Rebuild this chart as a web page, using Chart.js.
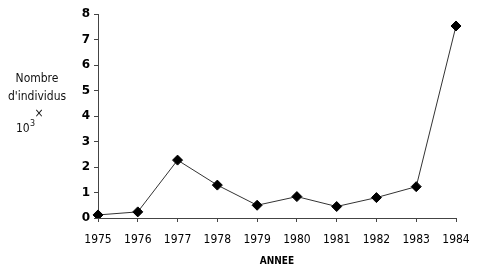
<!DOCTYPE html>
<html>
<head>
<meta charset="utf-8">
<script src="https://cdn.jsdelivr.net/npm/chart.js@4/dist/chart.umd.min.js"></script>
<style>
  html, body { margin: 0; padding: 0; background: #fff; }
  #wrap { width: 487px; height: 275px; }
</style>
</head>
<body>
<div id="wrap"><canvas id="chart" width="487" height="275"></canvas></div>
<script>
const years = ['1975', '1976', '1977', '1978', '1979', '1980', '1981', '1982', '1983', '1984'];
const individus = [0.12, 0.24, 2.27, 1.29, 0.5, 0.84, 0.45, 0.8, 1.23, 7.53];
const yTicks = [0, 1, 2, 3, 4, 5, 6, 7, 8];
const yTitleLines = ['Nombre', "d'individus", '×', '10³'];

// titre de l'axe Y écrit à l'horizontale, à gauche
const yTitlePlugin = {
    id: 'yTitle',
    afterDraw(chart) {
        const ctx = chart.ctx;
        ctx.save();
        ctx.fillStyle = '#111';
        ctx.font = '12px "DejaVu Sans Condensed", "DejaVu Sans"';
        ctx.textBaseline = 'middle';
        ctx.textAlign = 'center';
        ctx.fillText(yTitleLines[0], 37, 79);
        ctx.fillText(yTitleLines[1], 37, 97);
        ctx.fillText(yTitleLines[2], 39, 114);
        ctx.textAlign = 'left';
        ctx.fillText('10', 16, 129);
        ctx.font = '8px "DejaVu Sans"';
        ctx.fillText('3', 30, 124);
        ctx.restore();
    }
};

new Chart(document.getElementById('chart'), {
    type: 'line',
    data: {
        labels: years,
        datasets: [{
            data: individus,
            borderColor: '#333',
            borderWidth: 1,
            pointStyle: 'rectRot',
            pointRadius: 5,
            pointBackgroundColor: '#000',
            pointBorderColor: '#000',
            tension: 0
        }]
    },
    options: {
        responsive: false,
        animation: false,
        layout: { padding: { top: 14, right: 31, left: 0, bottom: 8 } },
        plugins: { legend: { display: false }, tooltip: { enabled: false } },
        scales: {
            x: {
                offset: false,
                border: { color: '#444', width: 1 },
                grid: { drawOnChartArea: false, color: '#444', tickLength: 4 },
                ticks: {
                    color: '#000',
                    font: { family: '"DejaVu Sans Condensed", "DejaVu Sans"', size: 12 },
                    maxRotation: 0,
                    autoSkip: false,
                    padding: 11
                },
                title: {
                    display: true,
                    text: 'ANNEE',
                    color: '#000',
                    font: { family: '"DejaVu Sans Condensed", "DejaVu Sans"', size: 10, weight: 'bold' },
                    padding: { top: 4, bottom: 0 }
                },
                afterFit(scale) { scale.height = 275 - 218 - 8; }
            },
            y: {
                min: 0,
                max: 8,
                border: { color: '#444', width: 1 },
                grid: { drawOnChartArea: false, color: '#444', tickLength: 4 },
                afterBuildTicks(scale) { scale.ticks = yTicks.map(v => ({ value: v })); },
                ticks: {
                    color: '#000',
                    font: { family: '"DejaVu Sans"', size: 12, weight: 'bold' },
                    padding: 4
                },
                afterFit(scale) { scale.width = 98; }
            }
        }
    },
    plugins: [yTitlePlugin]
});
</script>
</body>
</html>
